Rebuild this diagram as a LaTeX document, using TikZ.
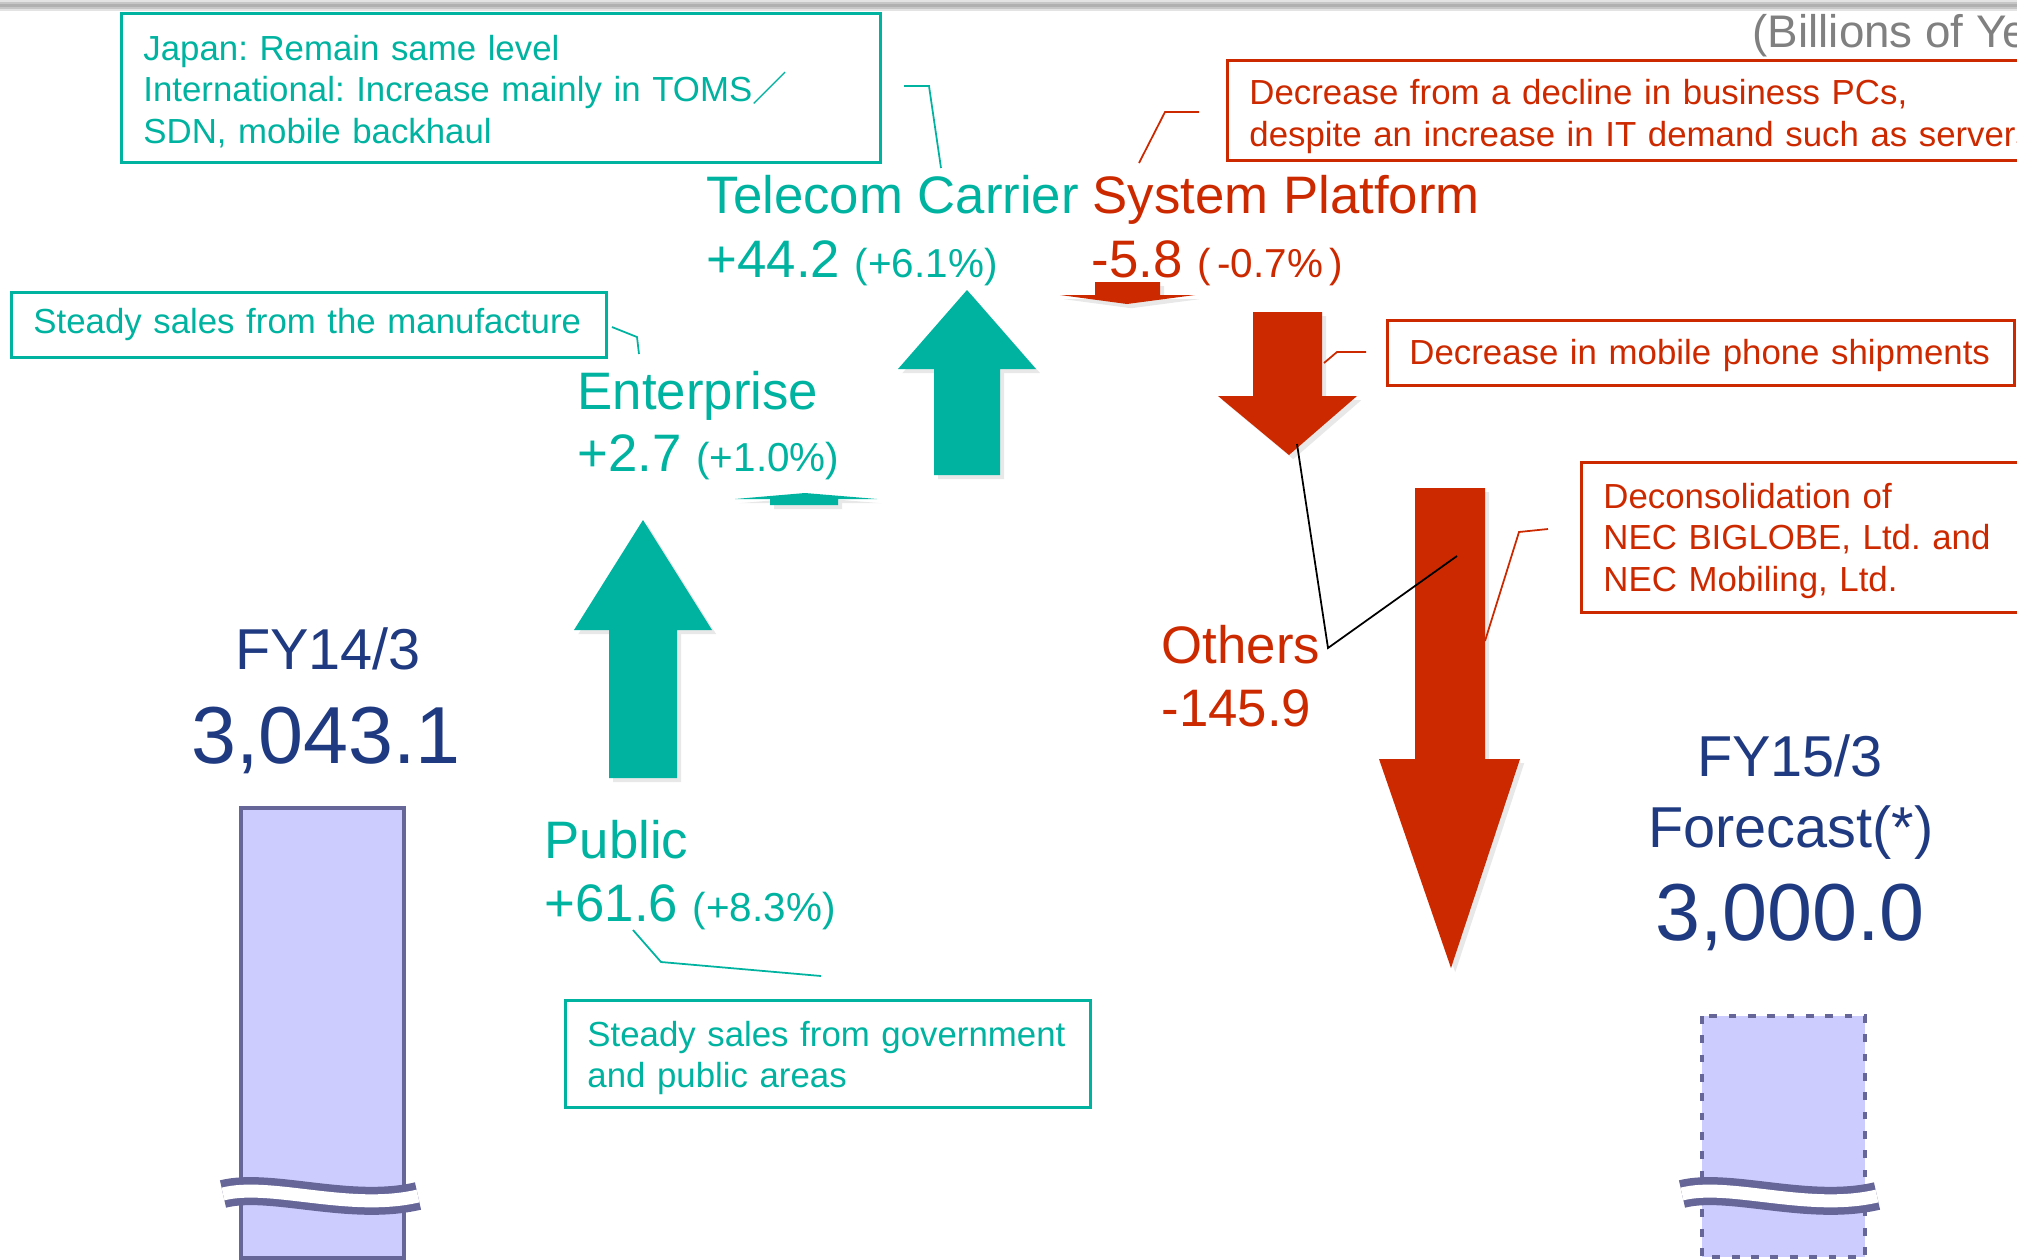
\documentclass[tikz,border=0pt]{standalone}
\usepackage{fontspec}
\setmainfont{Liberation Sans}
\newfontfamily\cjkfont{Noto Sans CJK JP}
\usepackage{tikz}
\usetikzlibrary{positioning,shadows}
\definecolor{segteal}{RGB}{0,178,160}
\definecolor{segred}{RGB}{204,41,0}
\definecolor{fyblue}{RGB}{31,58,128}
\definecolor{barfill}{RGB}{204,204,255}
\definecolor{barline}{RGB}{102,102,153}
\definecolor{unitgray}{RGB}{128,128,128}
\newcommand{\pctsize}{\fontsize{11.5}{14}\selectfont}
\frenchspacing

\begin{document}
\begin{tikzpicture}[x=0.01cm, y=-0.01cm,
  note/.style={draw, line width=0.8pt, anchor=north west, inner xsep=0.22cm, inner ysep=0pt, align=left, font=\fontsize{9.9}{11.8}\selectfont},
  tnote/.style={note, draw=segteal, text=segteal},
  rnote/.style={note, draw=segred, text=segred},
  seg/.style={inner sep=0pt, anchor=base west, font=\fontsize{15}{18}\selectfont},
  fy/.style={inner sep=0pt, anchor=base, text=fyblue},
  lead/.style={line width=0.5pt},
  fat/.style={drop shadow={shadow xshift=1.2pt, shadow yshift=-1.2pt, opacity=0.18}},
  bar/.style={fill=barfill, draw=barline, line width=0.9pt},
  ]
  \useasboundingbox (0,0) rectangle (2017,1260);
  \clip (0,0) rectangle (2017,1260);

  \fill[gray!22] (0,0) rectangle (2017,11);
  \fill[gray!45] (0,2) rectangle (2017,9);
  \fill[gray!62] (0,4) rectangle (2017,7);

  \node[inner sep=0pt, anchor=base west, text=unitgray, font=\fontsize{13}{15}\selectfont] (unit) at (1752,47) {(Billions of Yen)};

  % segment labels
  \node[seg, text=segteal] (tc) at (706,213) {Telecom Carrier};
  \node[seg, text=segteal] (tcv) at (706,277) {+44.2 {\pctsize(+6.1\%)}};
  \node[seg, text=segred] (sp) at (1092,213) {System Platform};
  \node[seg, text=segred] (spv) at (1091,277) {-5.8 {\pctsize(\,-0.7\%\,)}};
  \node[seg, text=segteal] (ent) at (577,409) {Enterprise};
  \node[seg, text=segteal] (entv) at (577,471) {+2.7 {\pctsize(+1.0\%)}};
  \node[seg, text=segteal] (pub) at (544,858) {Public};
  \node[seg, text=segteal] (pubv) at (544,921) {+61.6 {\pctsize(+8.3\%)}};
  \node[seg, text=segred] (oth) at (1161,663) {Others};
  \node[seg, text=segred] (othv) at (1161,726) {-145.9};

  % notes
  \node[tnote, text width=7.15cm, minimum height=1.49cm] (jpn) at (120,12)
    {\mbox{\rule{0pt}{9pt}Japan: Remain same level}\\\mbox{International: Increase mainly in TOMS{\cjkfont ／}}\\\mbox{SDN, mobile backhaul}};
  \node[tnote, text width=5.51cm, minimum height=0.65cm] (mfg) at (10,291)
    {\mbox{Steady sales from the manufacture}};
  \node[tnote, text width=4.81cm, minimum height=1.07cm] (gov) at (564,999)
    {\mbox{\rule{0pt}{9.5pt}Steady sales from government}\\\mbox{and public areas}};
  \node[rnote, text width=8.0cm, minimum height=1.0cm] (pcs) at (1226,59)
    {\mbox{\rule{0pt}{10.5pt}Decrease from a decline in business PCs,}\\\mbox{despite an increase in IT demand such as servers}};
  \node[rnote, text width=5.83cm, minimum height=0.65cm] (mob) at (1386,319)
    {\mbox{\rule{0pt}{8.5pt}Decrease in mobile phone shipments}};
  \node[rnote, text width=4.2cm, minimum height=1.5cm] (dec) at (1580,461)
    {\mbox{\rule{0pt}{9pt}Deconsolidation of}\\\mbox{NEC BIGLOBE, Ltd. and}\\\mbox{NEC Mobiling, Ltd.}};

  % arrows
  \fill[segteal, fat] (609,778) -- (609,630) -- (574,630) -- (643,520) -- (712,630) -- (677,630) -- (677,778) -- cycle;
  \fill[segteal, fat] (770,505) -- (770,499) -- (735,499) -- (805,493) -- (877,499) -- (838,499) -- (838,505) -- cycle;
  \fill[segteal, fat] (934,475) -- (934,369) -- (898,369) -- (967,290) -- (1036,369) -- (1000,369) -- (1000,475) -- cycle;
  \fill[segred, fat] (1095,282) -- (1160,282) -- (1160,295) -- (1195,295) -- (1127,304) -- (1060,295) -- (1095,295) -- cycle;
  \fill[segred, fat] (1253,312) -- (1322,312) -- (1322,396) -- (1357,396) -- (1289,455) -- (1218,396) -- (1253,396) -- cycle;
  \fill[segred, fat] (1415,488) -- (1485,488) -- (1485,759) -- (1520,759) -- (1451,968) -- (1379,759) -- (1415,759) -- cycle;

  % leaders
  \coordinate (jpnA) at (904,86);  \coordinate (jpnB) at (929,86);  \coordinate (jpnC) at (941,168);
  \coordinate (mfgA) at (612,327); \coordinate (mfgB) at (637,337); \coordinate (mfgC) at (639,354);
  \coordinate (govA) at (633,930); \coordinate (govB) at (661,962); \coordinate (govC) at (821,976);
  \coordinate (pcsA) at (1139,163); \coordinate (pcsB) at (1165,112); \coordinate (pcsC) at (1199,112);
  \coordinate (mobA) at (1324,363); \coordinate (mobB) at (1337,352); \coordinate (mobC) at (1366,352);
  \coordinate (decA) at (1485,641); \coordinate (decB) at (1519,532); \coordinate (decC) at (1548,529);
  \coordinate (othA) at (1297,444); \coordinate (othB) at (1328,648); \coordinate (othC) at (1457,556);
  \draw[lead, segteal] (jpnA) -- (jpnB) -- (jpnC);
  \draw[lead, segteal] (mfgA) -- (mfgB) -- (mfgC);
  \draw[lead, segteal] (govA) -- (govB) -- (govC);
  \draw[lead, segred] (pcsA) -- (pcsB) -- (pcsC);
  \draw[lead, segred] (mobA) -- (mobB) -- (mobC);
  \draw[lead, segred] (decA) -- (decB) -- (decC);
  \draw[lead, black] (othA) -- (othB) -- (othC);

  % totals
  \node[fy, font=\fontsize{16.4}{19}\selectfont] (fy14) at (328,669) {FY14/3};
  \node[fy, font=\fontsize{23}{27}\selectfont] (v14) at (326,763) {3,043.1};
  \node[fy, font=\fontsize{16.4}{19}\selectfont] (fy15) at (1790,776) {FY15/3};
  \node[fy, font=\fontsize{16.4}{19}\selectfont] (fc15) at (1791,847) {Forecast(*)};
  \node[fy, font=\fontsize{23}{27}\selectfont] (v15) at (1790,940) {3,000.0};

  \draw[bar] (241,808) rectangle (404,1258);
  \draw[bar, dash pattern=on 2.2pt off 3.3pt] (1702,1016) rectangle (1865,1257);
  \foreach \dx in {0,1459} {
    \begin{scope}[shift={(\dx,0)}]
      \draw[barline, line width=2.8mm] (223,1194) .. controls (270,1182) and (350,1212) .. (418,1196);
      \draw[white, line width=1.3mm] (223,1194) .. controls (270,1182) and (350,1212) .. (418,1196);
    \end{scope}
  }
\end{tikzpicture}
\end{document}
